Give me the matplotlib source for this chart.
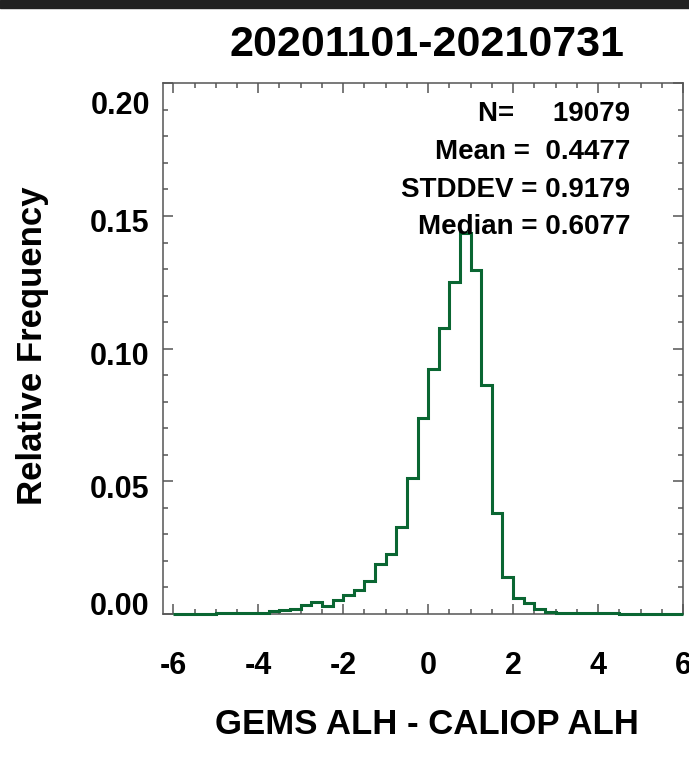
import numpy as np
import matplotlib
matplotlib.use('Agg')
import matplotlib.pyplot as plt
import matplotlib.transforms as mtransforms

plt.rcParams['font.family'] = ['Liberation Sans', 'DejaVu Sans']
plt.rcParams['font.weight'] = 'bold'

# datos del histograma (frecuencia relativa, bins de 0.25)
bin_edges = np.arange(-6.0, 6.0001, 0.25)
rel_freq = [0.0000, 0.0001, 0.0001, 0.0001, 0.0002, 0.0002, 0.0003, 0.0004, 0.0005,
            0.0012, 0.0014, 0.0017,
            0.0035, 0.0047, 0.0032, 0.0054, 0.0072, 0.0089, 0.0123, 0.0190,
            0.0227, 0.0326, 0.0513, 0.0737, 0.0922, 0.1078, 0.1250, 0.1436,
            0.1296, 0.0864, 0.0382, 0.0138, 0.0060, 0.0041, 0.0017, 0.0007,
            0.0004, 0.0003, 0.0003, 0.0002, 0.0002, 0.0002, 0.0001, 0.0001,
            0.0001, 0.0001, 0.0001, 0.0000]

title = '20201101-20210731'
stats_lines = ['N=     19079', 'Mean =  0.4477', 'STDDEV = 0.9179', 'Median = 0.6077']
xticks = [-6, -4, -2, 0, 2, 4, 6]
xtick_labels = ['-6', '-4', '-2', '0', '2', '4', '6']
yticks = [0.00, 0.05, 0.10, 0.15, 0.20]
ytick_labels = ['0.00', '0.05', '0.10', '0.15', '0.20']

W, H = 689, 759
fig = plt.figure(figsize=(W / 100, H / 100), dpi=100)
ax = fig.add_axes([163 / W, 1 - 614 / H, 520 / W, (614 - 83.3) / H])

ax.stairs(rel_freq, bin_edges, baseline=0, color='#0a6632', linewidth=2.2,
          clip_on=False, zorder=5)

ax.set_xlim(-6.242, 6.0)
ax.set_ylim(0, 0.2)

axcol = '#555555'
for s in ax.spines.values():
    s.set_color(axcol)
    s.set_linewidth(1.1)

ax.set_xticks(xticks)
ax.set_xticklabels(xtick_labels)
ax.set_xticks(np.arange(-6, 6.01, 0.5), minor=True)
ax.set_yticks(yticks)
ax.set_yticklabels(ytick_labels)
ax.set_yticks(np.arange(0, 0.2001, 0.01), minor=True)
ax.tick_params(which='both', direction='in', top=True, right=True,
               color=axcol, width=1.1)
ax.tick_params(which='major', length=7.2)
ax.tick_params(which='minor', length=3.6)
ax.tick_params(axis='x', which='major', pad=27, labelsize=22)
ax.tick_params(axis='y', which='major', pad=9.5, labelsize=22)

# desplazamiento vertical de las etiquetas del eje y (como en el original)
offs = {0: 7.9, 4: -13.7}
for i, lab in enumerate(ax.get_yticklabels()):
    dy = offs.get(i, -3.6)
    lab.set_transform(lab.get_transform() +
                      mtransforms.ScaledTranslation(0, dy / 72, fig.dpi_scale_trans))

fig.text(427 / W, 1 - 45 / H, title, ha='center', va='center',
         fontsize=31, fontweight='bold')

baselines = [121, 159, 196.7, 234.3]
for txt, yb in zip(stats_lines, baselines):
    fig.text(630 / W, 1 - yb / H, txt, ha='right', va='baseline',
             fontsize=20, fontweight='bold', zorder=10)

fig.text(427 / W, 1 - 724 / H, 'GEMS ALH - CALIOP ALH', ha='center', va='center',
         fontsize=25, fontweight='bold')
fig.text(33 / W, 1 - 346 / H, 'Relative Frequency', ha='center', va='center',
         rotation=90, fontsize=25, fontweight='bold')

# franja oscura arriba
fig.patches.append(plt.Rectangle((0, 1 - 8 / H), 1, 8 / H, transform=fig.transFigure,
                                 color='#222222', zorder=0))

fig.savefig('out.png', dpi=100)
